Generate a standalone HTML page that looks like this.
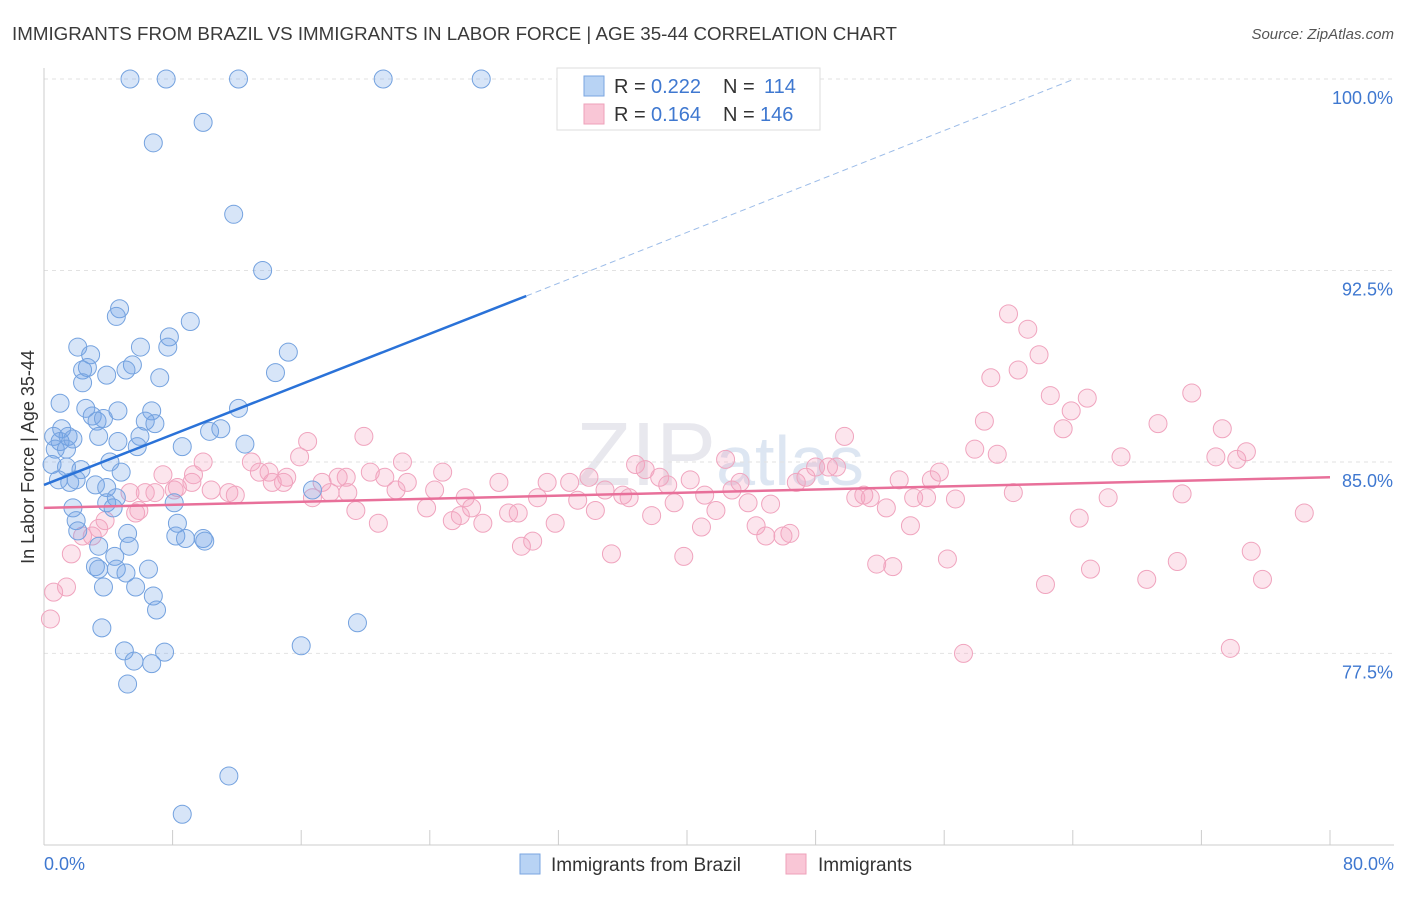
<!DOCTYPE html>
<html><head><meta charset="utf-8">
<style>
body{margin:0;background:#fff;font-family:"Liberation Sans",sans-serif;}
svg text{font-family:"Liberation Sans",sans-serif;}
</style></head>
<body>
<svg id="chart" width="1406" height="892" viewBox="0 0 1406 892" xmlns="http://www.w3.org/2000/svg">
<text x="12" y="40" font-size="18" fill="#3a3a3a" textLength="885" lengthAdjust="spacingAndGlyphs">IMMIGRANTS FROM BRAZIL VS IMMIGRANTS IN LABOR FORCE | AGE 35-44 CORRELATION CHART</text>
<text x="1394" y="39" font-size="15" fill="#555" text-anchor="end" font-style="italic">Source: ZipAtlas.com</text>
<text x="720" y="485" font-size="90" fill="#e8e8ee" text-anchor="middle" font-family="Liberation Serif">ZIP<tspan fill="#dde6f2" font-family="Liberation Sans" font-size="70">atlas</tspan></text>
<g id="grid"></g>
<g id="axes"></g>
<g id="pts"></g>
<g id="trend"></g>
<text transform="translate(34,457) rotate(-90)" font-size="18" fill="#333" text-anchor="middle">In Labor Force | Age 35-44</text>
<g>
<rect x="557" y="68" width="263" height="62" fill="#fff" stroke="#ddd"/>
<rect x="584" y="76" width="20" height="20" fill="#b8d3f4" stroke="#7aa6e0"/>
<rect x="584" y="104" width="20" height="20" fill="#f9c6d6" stroke="#eea0ba"/>
<text x="614" y="93" font-size="20" fill="#333">R =</text>
<text x="651" y="93" font-size="20" fill="#3f78d0">0.222</text>
<text x="723" y="93" font-size="20" fill="#333">N =</text>
<text x="764" y="93" font-size="20" fill="#3f78d0">114</text>
<text x="614" y="121" font-size="20" fill="#333">R =</text>
<text x="651" y="121" font-size="20" fill="#3f78d0">0.164</text>
<text x="723" y="121" font-size="20" fill="#333">N =</text>
<text x="760" y="121" font-size="20" fill="#3f78d0">146</text>
</g>
<g>
<rect x="520" y="854" width="20" height="20" fill="#b8d3f4" stroke="#7aa6e0"/>
<text x="551" y="871" font-size="19" fill="#333">Immigrants from Brazil</text>
<rect x="786" y="854" width="20" height="20" fill="#f9c6d6" stroke="#eea0ba"/>
<text x="818" y="871" font-size="19" fill="#333">Immigrants</text>
</g>
</svg>
<script>
const yTicks=[100,92.5,85,77.5];
const yTickLabels=["100.0%","92.5%","85.0%","77.5%"];
const xTickLabels=["0.0%","80.0%"];
const blueX=[5.35,7.6,12.1,21.1,27.2,6.8,9.9,11.8,13.6,4.7,4.5,9.1,7.8,7.7,6.0,2.1,2.9,15.2,5.5,2.7,2.4,5.1,3.9,14.4,7.2,2.4,1.0,12.1,6.7,4.6,2.6,3.0,3.3,3.7,6.3,6.9,5.97,5.8,1.1,0.6,1.0,1.5,1.8,3.4,4.6,0.7,1.4,8.6,10.3,11.0,12.5,0.5,1.4,2.3,4.1,4.8,0.9,1.6,2.0,3.2,3.9,4.5,3.9,4.3,8.1,16.7,1.8,2.0,2.1,8.3,5.2,8.2,8.8,9.9,10.0,3.4,5.3,4.4,3.2,3.4,4.5,5.1,6.5,3.7,5.7,6.8,7.0,3.6,19.5,16.0,5.0,7.5,5.6,6.7,5.2,11.5,8.6];
const blueY=[100,100,100,100,100,97.5,98.3,94.7,92.5,91.0,90.7,90.5,89.9,89.5,89.5,89.5,89.2,89.3,88.8,88.7,88.6,88.6,88.4,88.5,88.3,88.1,87.3,87.1,87.0,87.0,87.1,86.8,86.6,86.7,86.6,86.5,86.0,85.6,86.3,86.0,85.8,86.0,85.9,86.0,85.8,85.5,85.5,85.6,86.2,86.3,85.7,84.9,84.8,84.7,85.0,84.6,84.3,84.2,84.3,84.1,84.0,83.6,83.4,83.2,83.4,83.9,83.2,82.7,82.3,82.6,82.2,82.1,82.0,82.0,81.9,81.7,81.7,81.3,80.9,80.8,80.8,80.65,80.8,80.1,80.1,79.75,79.2,78.5,78.7,77.8,77.6,77.55,77.2,77.1,76.3,72.7,71.2];
const pinkX=[60.0,61.2,61.9,58.9,60.6,62.6,64.9,71.4,63.9,58.5,63.4,69.3,73.3,49.8,57.9,59.3,67.0,72.9,74.8,74.2,16.4,15.9,12.9,9.9,7.4,9.3,13.4,14.0,15.1,14.2,14.9,19.9,20.3,21.2,22.3,22.6,24.8,24.3,21.9,18.8,17.3,18.3,28.3,31.3,32.7,33.9,36.8,37.4,38.3,38.8,40.2,42.4,43.3,46.8,48.0,48.8,49.3,47.4,53.2,55.2,55.7,5.35,6.3,6.9,8.1,10.4,11.5,11.9,16.7,17.8,18.9,19.4,20.8,23.8,26.2,26.6,25.4,25.9,27.3,28.9,29.5,30.7,31.8,33.2,34.3,34.9,36.0,36.4,37.8,39.2,41.1,41.8,42.8,43.8,45.2,44.3,40.9,46.4,45.97,50.5,51.0,51.4,52.4,54.1,54.9,56.7,53.9,60.3,66.2,70.8,64.4,78.4,44.9,29.7,30.4,35.3,39.8,51.8,52.8,56.2,62.3,65.1,68.6,70.5,75.1,75.8,57.2,73.8,1.7,2.4,3.0,3.4,3.8,5.7,5.9,0.6,1.4,0.4,8.3,9.2];
const pinkY=[90.8,90.2,89.2,88.3,88.6,87.6,87.5,87.7,87.0,86.6,86.3,86.5,86.3,86.0,85.5,85.3,85.2,85.2,85.4,85.1,85.8,85.2,85.0,85.0,84.5,84.5,84.6,84.6,84.4,84.2,84.2,86.0,84.6,84.4,85.0,84.2,84.6,83.9,83.9,84.4,84.2,84.4,84.2,84.2,84.2,84.4,84.9,84.7,84.4,84.1,84.3,85.1,84.2,84.2,84.8,84.8,84.8,84.4,84.3,84.3,84.6,83.8,83.8,83.8,83.9,83.9,83.8,83.7,83.6,83.8,83.8,83.1,82.6,83.2,83.6,83.2,82.7,82.9,82.6,83.0,83.0,83.6,82.6,83.5,83.1,83.9,83.7,83.6,82.9,83.4,83.7,83.1,83.9,83.4,83.35,82.5,82.45,82.2,82.1,83.6,83.7,83.6,83.2,83.6,83.6,83.55,82.5,83.8,83.6,83.75,82.8,83.0,82.1,81.7,81.9,81.4,81.3,81.0,80.9,81.2,80.2,80.8,80.4,81.1,81.5,80.4,77.5,77.7,81.4,82.1,82.1,82.4,82.7,83.0,83.1,79.9,80.1,78.85,84.0,84.2];
const blueTrend=[[0,84.1],[30.0,91.5]];
const blueTrendExt=[[30.0,91.5],[64.1,100]];
const pinkTrend=[[0,83.2],[80,84.4]];

const NS="http://www.w3.org/2000/svg";
const X0=44,X1=1330,Y0=79,PX_PER=25.53;
function sx(v){return X0+(v/80)*(X1-X0);}
function sy(v){return Y0+(100-v)*PX_PER;}
function mk(tag,attrs,parent){const e=document.createElementNS(NS,tag);for(const k in attrs)e.setAttribute(k,attrs[k]);parent.appendChild(e);return e;}
const grid=document.getElementById('grid'),axes=document.getElementById('axes'),pts=document.getElementById('pts'),trend=document.getElementById('trend');
yTicks.forEach((t,i)=>{
  const l=mk('line',{x1:X0,x2:1394,y1:sy(t),y2:sy(t),stroke:'#e2e2e2','stroke-dasharray':'4,4'},grid);
  
  
  const tx=mk('text',{x:1393,y:sy(t)+25,'font-size':18,fill:'#3f78d0','text-anchor':'end'},axes);
  tx.textContent=yTickLabels[i];
  
  
});
const xa=mk('line',{x1:X0,x2:1394,y1:845,y2:845,stroke:'#ccc'},axes);


const ya=mk('line',{x1:X0,x2:X0,y1:68,y2:845,stroke:'#ccc'},axes);


for(let i=0;i<=10;i++){
  const tk=mk('line',{x1:sx(i*8),x2:sx(i*8),y1:830,y2:845,stroke:'#ccc'},axes);
  
  
}
[[0,'start',44],[80,'end',1394]].forEach((d,i)=>{
  const tx=mk('text',{x:d[2],y:870,'font-size':18,fill:'#3f78d0','text-anchor':d[1]},axes);
  tx.textContent=xTickLabels[i];
  
  
});
function dots(xs,ys,fill,stroke,name){
  xs.forEach((x,i)=>{
    const big=(name==='brazil-point'&&x===0);
    const c=mk('circle',{cx:sx(x),cy:sy(ys[i]),r:big?16:9,fill:fill,stroke:stroke,'stroke-width':1},pts);
    
    
  });
}
dots(pinkX,pinkY,'rgba(244,160,190,0.28)','#f0a4be','immigrants-point');
dots(blueX,blueY,'rgba(110,160,230,0.28)','#74a2df','brazil-point');
const bl=mk('line',{x1:sx(blueTrend[0][0]),y1:sy(blueTrend[0][1]),x2:sx(blueTrend[1][0]),y2:sy(blueTrend[1][1]),stroke:'#2a72d8','stroke-width':2.5},trend);


const be=mk('line',{x1:sx(blueTrendExt[0][0]),y1:sy(blueTrendExt[0][1]),x2:sx(blueTrendExt[1][0]),y2:sy(blueTrendExt[1][1]),stroke:'#9cbce8','stroke-width':1,'stroke-dasharray':'6,4'},trend);


const pl=mk('line',{x1:sx(pinkTrend[0][0]),y1:sy(pinkTrend[0][1]),x2:sx(pinkTrend[1][0]),y2:sy(pinkTrend[1][1]),stroke:'#e8709a','stroke-width':2.5},trend);


</script>
</body></html>
